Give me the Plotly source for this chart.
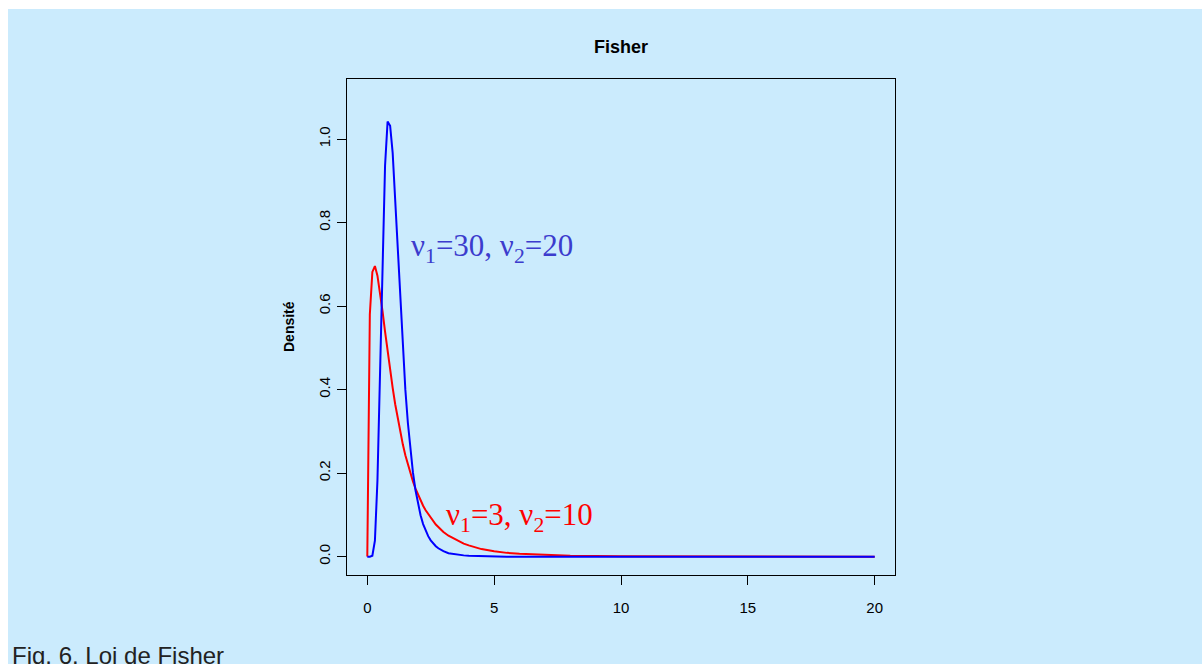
import plotly.graph_objects as go

# Density of the Fisher distribution for two pairs of degrees of freedom
x_vals = [0, 0.1, 0.2, 0.3, 0.4, 0.5, 0.6, 0.7, 0.8, 0.9, 1.0,
          1.1, 1.2, 1.3, 1.4, 1.5, 1.6, 1.7, 1.8, 1.9, 2.0,
          2.1, 2.2, 2.3, 2.4, 2.5, 2.6, 2.7, 2.8, 2.9, 3.0,
          3.2, 3.4, 3.6, 3.8, 4.0, 4.5, 5.0, 5.5, 6.0, 7.0, 8.0,
          10.0, 15.0, 20.0]

dens_3_10 = [0.0, 0.580, 0.682, 0.696, 0.673, 0.634, 0.588, 0.539, 0.491, 0.446, 0.404,
             0.365, 0.330, 0.298, 0.269, 0.243, 0.220, 0.199, 0.180, 0.163, 0.148,
             0.135, 0.122, 0.111, 0.102, 0.093, 0.085, 0.077, 0.071, 0.065, 0.059,
             0.050, 0.043, 0.036, 0.031, 0.027, 0.018, 0.013, 0.009, 0.007, 0.004, 0.002,
             0.001, 0.0, 0.0]

dens_30_20 = [0.0, 0.0, 0.002, 0.038, 0.182, 0.440, 0.723, 0.937, 1.042, 1.032, 0.967,
              0.856, 0.730, 0.608, 0.496, 0.400, 0.320, 0.254, 0.201, 0.159, 0.125,
              0.099, 0.078, 0.062, 0.049, 0.039, 0.031, 0.025, 0.020, 0.016, 0.013,
              0.008, 0.006, 0.004, 0.003, 0.002, 0.001, 0.0, 0.0, 0.0, 0.0, 0.0,
              0.0, 0.0, 0.0]

x_ticks = [0, 5, 10, 15, 20]
y_ticks = [0.0, 0.2, 0.4, 0.6, 0.8, 1.0]
y_tick_text = ["0.0", "0.2", "0.4", "0.6", "0.8", "1.0"]

BG = "#cbebfd"
W_FIG, H_FIG = 1202, 664
M_L, M_R, M_T, M_B = 347, 307, 79, 89
PW = W_FIG - M_L - M_R
PH = H_FIG - M_T - M_B


def px_x(px):
    return (px - M_L) / PW


def px_y(py):
    return (H_FIG - M_B - py) / PH


fig = go.Figure()
fig.add_trace(go.Scatter(x=x_vals, y=dens_3_10, mode="lines",
                         line=dict(color="#ff0000", width=2), showlegend=False))
fig.add_trace(go.Scatter(x=x_vals, y=dens_30_20, mode="lines",
                         line=dict(color="#0000ff", width=2), showlegend=False))

sans = "Liberation Sans, Arial, sans-serif"
serif = "Liberation Serif, Times New Roman, serif"

axis_common = dict(showgrid=False, zeroline=False, showline=True, mirror=True,
                   linecolor="black", linewidth=1, ticks="outside", ticklen=9,
                   tickwidth=1, tickcolor="black",
                   tickfont=dict(family=sans, size=15, color="black"))

fig.update_xaxes(range=[-0.8, 20.8], tickmode="array", tickvals=x_ticks,
                 ticklabelstandoff=10, **axis_common)
fig.update_yaxes(range=[-0.044, 1.144], tickmode="array", tickvals=y_ticks,
                 ticktext=y_tick_text, tickangle=-90, ticklabelstandoff=1,
                 **axis_common)

fig.add_annotation(x=4.9, y=0.74, xref="x", yref="y",
                   text="ν<sub>1</sub>=30, ν<sub>2</sub>=20", showarrow=False,
                   font=dict(family=serif, size=31, color="#3c3ccd"))
fig.add_annotation(x=6.0, y=0.095, xref="x", yref="y",
                   text="ν<sub>1</sub>=3, ν<sub>2</sub>=10", showarrow=False,
                   font=dict(family=serif, size=31, color="#ff0000"))

# y-axis title
fig.add_annotation(x=px_x(289), y=0.5, xref="paper", yref="paper",
                   text="<b>Densité</b>", textangle=-90, showarrow=False,
                   xanchor="center", yanchor="middle",
                   font=dict(family=sans, size=14, color="black"))

# caption under the chart
fig.add_annotation(x=px_x(10), y=px_y(640), xref="paper", yref="paper",
                   text="Fig. 6. Loi de Fisher", showarrow=False,
                   xanchor="left", yanchor="top",
                   font=dict(family=sans, size=24, color="#222222"))

# white strips along the top and left edges of the page
fig.add_shape(type="rect", xref="paper", yref="paper",
              x0=px_x(0), x1=px_x(W_FIG), y0=px_y(9), y1=px_y(0),
              fillcolor="white", line=dict(width=0), layer="below")
fig.add_shape(type="rect", xref="paper", yref="paper",
              x0=px_x(0), x1=px_x(8), y0=px_y(H_FIG), y1=px_y(0),
              fillcolor="white", line=dict(width=0), layer="below")

fig.update_layout(
    width=W_FIG, height=H_FIG,
    margin=dict(l=M_L, r=M_R, t=M_T, b=M_B, autoexpand=False),
    paper_bgcolor=BG, plot_bgcolor=BG,
    title=dict(text="<b>Fisher</b>", x=0.5, xref="paper", xanchor="center",
               y=1 - 47 / H_FIG, yref="container", yanchor="middle",
               font=dict(family=sans, size=18, color="black")),
)

fig.write_html("out.html")
